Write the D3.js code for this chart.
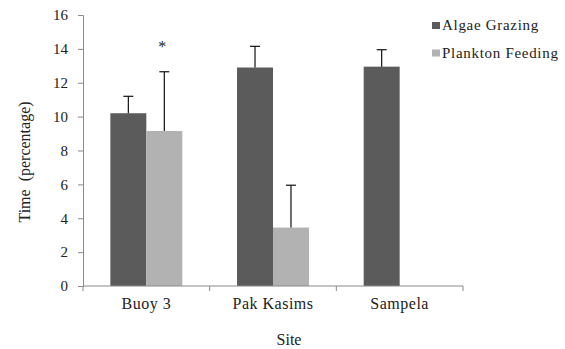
<!DOCTYPE html>
<html>
<head>
<meta charset="utf-8">
<script src="https://cdn.jsdelivr.net/npm/d3@7"></script>
</head>
<body style="margin:0;background:#fff">
<svg id="chart" width="565" height="349" style="display:block"></svg>
<script>
// Feeding time by site
const sites = ["Buoy 3", "Pak Kasims", "Sampela"];
const seriesNames = ["Algae Grazing", "Plankton Feeding"];
const algaeGrazing = [10.2, 12.9, 12.95];
const algaeGrazingErr = [1.0, 1.25, 1.0];
const planktonFeeding = [9.15, 3.45, null];
const planktonFeedingErr = [3.5, 2.5, null];
const yTicks = [0, 2, 4, 6, 8, 10, 12, 14, 16];
const markers = [{ site: "Buoy 3", series: "Plankton Feeding", text: "*" }];

const FONT = "Liberation Serif";
const colors = { "Algae Grazing": "#5b5b5b", "Plankton Feeding": "#b2b2b2" };

const svg = d3.select("#chart");
const margin = { left: 83, right: 102, top: 15, bottom: 63 };
const W = 565, H = 349;

const x0 = d3.scaleBand().domain(sites).range([margin.left, W - margin.right]).paddingInner(0.432).paddingOuter(0.216);
const x1 = d3.scaleBand().domain(seriesNames).range([0, x0.bandwidth()]);
const y = d3.scaleLinear().domain([0, 16]).range([H - margin.bottom, margin.top]);

const rows = [];
sites.forEach((s, i) => {
  rows.push({ site: s, series: "Algae Grazing", value: algaeGrazing[i], err: algaeGrazingErr[i] });
  if (planktonFeeding[i] != null)
    rows.push({ site: s, series: "Plankton Feeding", value: planktonFeeding[i], err: planktonFeedingErr[i] });
});

// bars
svg.append("g").selectAll("rect").data(rows).join("rect")
  .attr("x", d => x0(d.site) + x1(d.series))
  .attr("width", x1.bandwidth())
  .attr("y", d => y(d.value))
  .attr("height", d => y(0) - y(d.value))
  .attr("fill", d => colors[d.series]);

// upper error bars
const eb = svg.append("g").attr("stroke", "#111").attr("stroke-width", 1.2);
rows.forEach(d => {
  const cx = x0(d.site) + x1(d.series) + x1.bandwidth() / 2;
  eb.append("line").attr("x1", cx).attr("x2", cx).attr("y1", y(d.value)).attr("y2", y(d.value + d.err));
  eb.append("line").attr("x1", cx - 5).attr("x2", cx + 5).attr("y1", y(d.value + d.err)).attr("y2", y(d.value + d.err));
});

// significance markers
markers.forEach(m => {
  const cx = x0(m.site) + x1(m.series) + x1.bandwidth() / 2;
  svg.append("text").attr("x", cx - 2).attr("y", y(14.2) + 7)
    .attr("text-anchor", "middle").attr("font-family", FONT).attr("font-size", 16).attr("fill", "#222").text(m.text);
});

// y axis
const yAxis = svg.append("g").attr("transform", `translate(${margin.left},0)`)
  .call(d3.axisLeft(y).tickValues(yTicks).tickSize(5).tickPadding(10));
yAxis.attr("font-family", FONT);
yAxis.select(".domain").attr("stroke", "#8a8a8a");
yAxis.selectAll(".tick line").attr("stroke", "#8a8a8a");
yAxis.selectAll(".tick text").attr("font-family", FONT).attr("font-size", 15).attr("fill", "#222");

// x axis: baseline with ticks at category boundaries
const xg = svg.append("g");
const x0Left = margin.left, x0Right = W - margin.right;
xg.append("line").attr("x1", x0Left).attr("x2", x0Right).attr("y1", y(0)).attr("y2", y(0)).attr("stroke", "#8a8a8a");
const bounds = d3.range(sites.length + 1).map(i => x0Left + (x0Right - x0Left) * i / sites.length);
bounds.forEach(b => xg.append("line").attr("x1", b).attr("x2", b).attr("y1", y(0)).attr("y2", y(0) + 5).attr("stroke", "#8a8a8a"));
sites.forEach(s => {
  xg.append("text").attr("x", x0(s) + x0.bandwidth() / 2).attr("y", 309)
    .attr("text-anchor", "middle").attr("font-family", FONT).attr("font-size", 16).attr("fill", "#222")
    .attr("letter-spacing", "0.5").text(s);
});

// axis titles
svg.append("text").attr("x", 289).attr("y", 345).attr("text-anchor", "middle")
  .attr("font-family", FONT).attr("font-size", 16).attr("fill", "#222").text("Site");
svg.append("text").attr("transform", "translate(30,162) rotate(-90)").attr("text-anchor", "middle")
  .attr("font-family", FONT).attr("font-size", 16).attr("fill", "#222").attr("xml:space", "preserve")
  .style("white-space", "pre").text("Time  (percentage)");

// legend
const lg = svg.append("g").attr("transform", "translate(432,0)");
seriesNames.forEach((n, i) => {
  const yy = 30 + i * 27.5;
  lg.append("rect").attr("x", 0).attr("y", yy - 8).attr("width", 8).attr("height", 7).attr("fill", colors[n]);
  lg.append("text").attr("x", 10).attr("y", yy).attr("font-family", FONT).attr("font-size", 15).attr("fill", "#222")
    .attr("letter-spacing", "0.7").text(n);
});
</script>
</body>
</html>
